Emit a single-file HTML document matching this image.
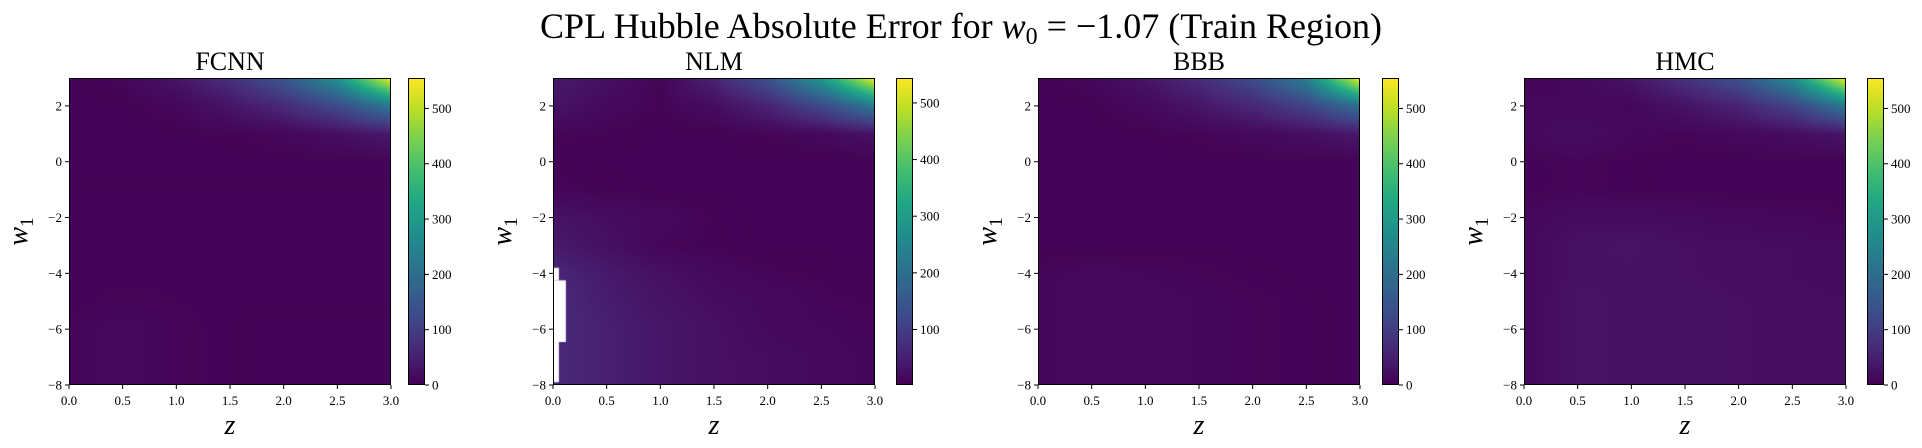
<!DOCTYPE html>
<html><head><meta charset="utf-8"><style>
body{margin:0;background:#fff;width:1922px;height:448px;overflow:hidden;position:relative;font-family:"Liberation Serif","DejaVu Serif",serif}
canvas{position:absolute}
svg{position:absolute;left:0;top:0}
</style></head><body>
<canvas id="c0"></canvas>
<canvas id="c1"></canvas>
<canvas id="c2"></canvas>
<canvas id="c3"></canvas>
<canvas id="b0"></canvas>
<canvas id="b1"></canvas>
<canvas id="b2"></canvas>
<canvas id="b3"></canvas>
<svg id="ov" width="1922" height="448">
<text x="961" y="38" text-anchor="middle" font-size="36">CPL Hubble Absolute Error for <tspan font-style="italic">w</tspan><tspan font-size="24" dy="6">0</tspan><tspan dy="-6"> = −1.07 (Train Region)</tspan></text>
</svg>
<script>
const zNodes=[0,0.5,1,1.5,2,2.5,3];
const w1Nodes=[3,2,1,0,-1,-2,-3,-4,-5,-6,-7,-8];
const titles=["FCNN","NLM","BBB","HMC"];
const xTicks=[0,0.5,1,1.5,2,2.5,3];
const xTickLabels=["0.0","0.5","1.0","1.5","2.0","2.5","3.0"];
const yTicks=[2,0,-2,-4,-6,-8];
const yTickLabels=["2","0","−2","−4","−6","−8"];
const cbTicks0=[0,100,200,300,400,500];
const cbTicks1=[100,200,300,400,500];
const vmin=[0,2,0,0];
const vmax=[555,544,555,555];
const fcnnVals=[
[5,8,30,75,150,280,550],[5,5,10,30,65,125,220],[5,5,5,6,10,20,40],[5,5,5,5,5,5,5],
[6,6,6,6,6,6,6],[6,6,6,6,6,6,6],[6,6,6,6,6,6,6],[6,6,6,6,6,6,6],[6,8,7,6,6,6,6],
[8,12,8,6,5,5,5],[8,12,8,6,5,5,5],[8,12,8,6,5,5,5]];
const nlmVals=[
[40,25,8,55,140,290,540],[30,15,8,20,55,120,220],[10,8,5,5,10,14,28],[8,5,5,5,5,5,5],
[10,8,5,5,5,5,5],[30,20,15,8,5,5,5],[40,25,10,8,5,5,5],[60,40,25,15,10,8,5],
[65,45,30,20,15,10,8],[65,50,35,25,15,12,10],[65,50,35,25,20,15,10],[65,50,35,25,20,15,10]];
const bbbVals=[
[5,10,30,70,130,240,550],[5,5,12,32,60,110,200],[5,5,5,8,12,20,38],[5,5,5,5,5,5,5],
[5,5,5,5,5,5,5],[5,5,5,5,5,5,5],[5,5,5,5,5,5,5],[8,12,10,8,6,5,5],
[8,15,12,10,8,6,5],[8,15,12,10,8,6,5],[8,15,12,10,8,6,5],[8,15,12,10,8,6,5]];
const hmcVals=[
[5,12,30,80,140,270,550],[12,10,10,28,55,110,220],[12,20,10,8,12,18,32],[6,8,6,5,5,5,5],
[6,8,6,5,5,5,5],[10,18,18,15,12,10,8],[12,25,28,22,20,18,15],[12,25,25,22,20,18,15],
[12,28,25,25,22,20,18],[12,28,25,25,22,20,18],[12,28,25,25,22,20,18],[12,28,25,25,22,20,18]];
const nlmNanRects=[[0,0.055,-3.8,-4.25],[0,0.12,-4.25,-6.46],[0,0.055,-6.46,-7.9]];
const allVals=[fcnnVals,nlmVals,bbbVals,hmcVals];

const axL=[69,553,1038,1524], axT=78, axW=322, axH=307;
const cbL=[408,896,1382,1867], cbW=17;
const stops=[[68,1,84],[72,36,117],[65,68,135],[53,95,141],[42,120,142],[33,145,140],[34,168,132],[68,191,112],[122,209,81],[189,223,38],[253,231,37]];
function viridis(t){t=Math.max(0,Math.min(1,t));const f=t*10,i=Math.min(9,Math.floor(f)),u=f-i;const a=stops[i],b=stops[i+1];return [a[0]+(b[0]-a[0])*u,a[1]+(b[1]-a[1])*u,a[2]+(b[2]-a[2])*u];}
function sx(p,z){return axL[p]+z/3*axW;}
function sy(w){return axT+(3-w)/11*axH;}
function sample(v,z,w){
  let ci=z/0.5; let i=Math.min(5,Math.floor(ci)); let u=ci-i;
  let rj=(3-w); let j=Math.min(10,Math.floor(rj)); let t=rj-j;
  const a=v[j][i],b=v[j][i+1],c=v[j+1][i],d=v[j+1][i+1];
  return a*(1-u)*(1-t)+b*u*(1-t)+c*(1-u)*t+d*u*t;
}
const NS="http://www.w3.org/2000/svg";
const ov=document.getElementById('ov');
function mk(tag,attrs,txt){const e=document.createElementNS(NS,tag);for(const k in attrs)e.setAttribute(k,attrs[k]);if(txt!==undefined)e.textContent=txt;ov.appendChild(e);return e;}
for(let p=0;p<4;p++){
  const cv=document.getElementById('c'+p);
  cv.width=axW;cv.height=axH;cv.style.left=axL[p]+'px';cv.style.top=axT+'px';
  const ctx=cv.getContext('2d');const img=ctx.createImageData(axW,axH);
  for(let y=0;y<axH;y++)for(let x=0;x<axW;x++){
    const z=(x+0.5)/axW*3,w=3-(y+0.5)/axH*11;
    const val=sample(allVals[p],z,w);
    const c=viridis((val-vmin[p])/(vmax[p]-vmin[p]));
    const k=(y*axW+x)*4;img.data[k]=c[0];img.data[k+1]=c[1];img.data[k+2]=c[2];img.data[k+3]=255;
  }
  ctx.putImageData(img,0,0);
  if(p===1){ctx.fillStyle='#fff';for(const r of nlmNanRects){const x0=r[0]/3*axW,x1=r[1]/3*axW,y0=(3-r[2])/11*axH,y1=(3-r[3])/11*axH;ctx.fillRect(x0,y0,x1-x0,y1-y0);}}
  const cb=document.getElementById('b'+p);
  cb.width=cbW;cb.height=axH;cb.style.left=cbL[p]+'px';cb.style.top=axT+'px';
  const bx=cb.getContext('2d');
  for(let y=0;y<axH;y++){const c=viridis(1-(y+0.5)/axH);bx.fillStyle=`rgb(${c[0]|0},${c[1]|0},${c[2]|0})`;bx.fillRect(0,y,cbW,1);}
  let e=mk('rect',{x:axL[p]+0.5,y:axT+0.5,width:axW-1,height:axH-1,fill:'none',stroke:'#000','stroke-width':1});
  
  e=mk('rect',{x:cbL[p]+0.5,y:axT+0.5,width:cbW-1,height:axH-1,fill:'none',stroke:'#000','stroke-width':1});
  
  e=mk('text',{x:axL[p]+axW/2,y:70,'text-anchor':'middle','font-size':26},titles[p]);
  
  xTicks.forEach((t,i)=>{const x=sx(p,t);
    e=mk('line',{x1:x,x2:x,y1:axT+axH,y2:axT+axH+4,stroke:'#000'});
    
    e=mk('text',{x:x,y:405,'text-anchor':'middle','font-size':13},xTickLabels[i]);
    });
  yTicks.forEach((t,i)=>{const y=sy(t);
    e=mk('line',{x1:axL[p]-4,x2:axL[p],y1:y,y2:y,stroke:'#000'});
    
    e=mk('text',{x:axL[p]-7,y:y+4.5,'text-anchor':'end','font-size':13},yTickLabels[i]);
    });
  const cbt=p===1?cbTicks1:cbTicks0;
  cbt.forEach(t=>{const y=axT+axH-(t-vmin[p])/(vmax[p]-vmin[p])*axH;
    e=mk('line',{x1:cbL[p]+cbW,x2:cbL[p]+cbW+4,y1:y,y2:y,stroke:'#000'});
    
    e=mk('text',{x:cbL[p]+cbW+7,y:y+4.5,'font-size':13},String(t));
    });
  e=mk('text',{x:axL[p]+axW/2,y:434,'text-anchor':'middle','font-size':28,'font-style':'italic'},'z');
  
  e=mk('text',{x:0,y:0,'text-anchor':'middle','font-size':28,'font-style':'italic',transform:`translate(${axL[p]-42},${axT+axH/2}) rotate(-90)`});
  
  const t1=document.createElementNS(NS,'tspan');t1.textContent='w';e.appendChild(t1);
  const t2=document.createElementNS(NS,'tspan');t2.setAttribute('font-size','19');t2.setAttribute('dy','6');t2.setAttribute('font-style','normal');t2.textContent='1';e.appendChild(t2);
}
</script>
</body></html>
